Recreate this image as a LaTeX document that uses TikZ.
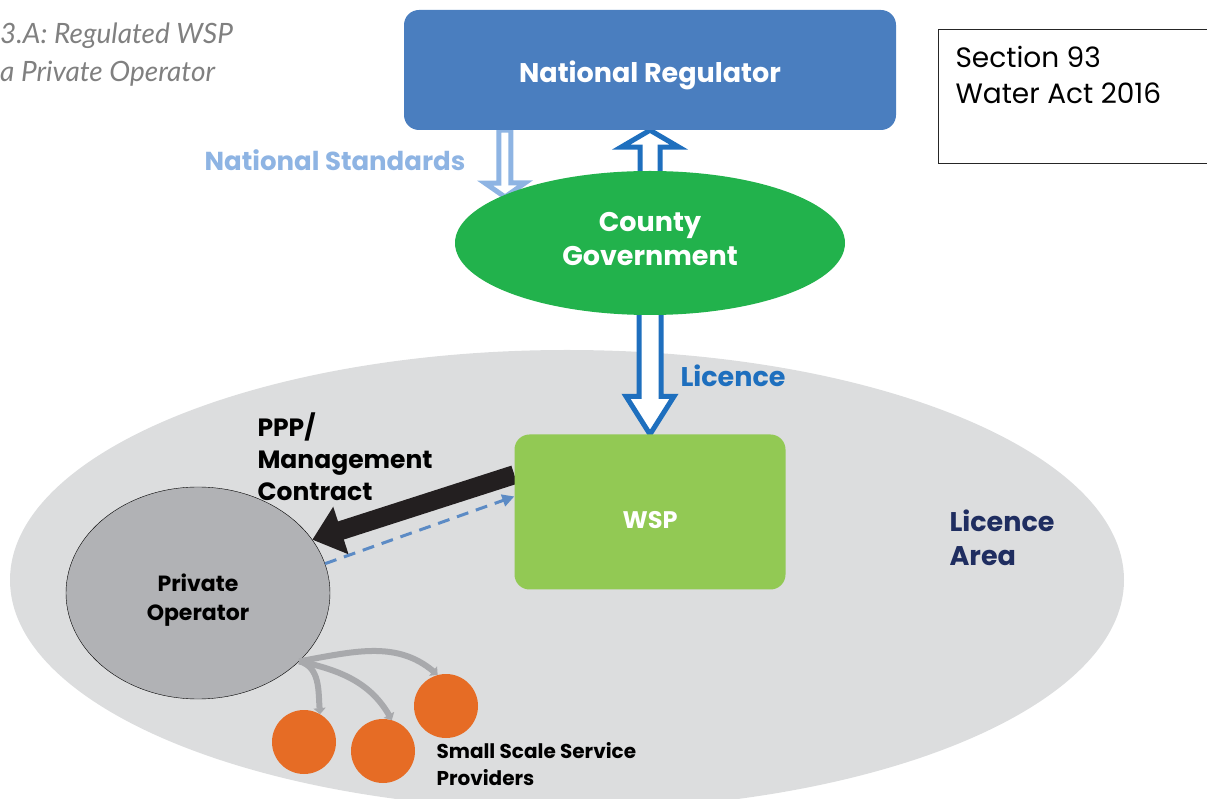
\documentclass[tikz,border=0pt]{standalone}
\usepackage{fontspec}
\setmainfont{Poppins}
\newfontfamily\captionfont{Lato}
\usetikzlibrary{shapes.geometric,arrows.meta,calc}

\definecolor{areagray}{RGB}{220,221,222}
\definecolor{regblue}{RGB}{74,126,191}
\definecolor{countygreen}{RGB}{34,178,76}
\definecolor{wspgreen}{RGB}{146,201,84}
\definecolor{opgray}{RGB}{177,178,181}
\definecolor{sspor}{RGB}{230,108,37}
\definecolor{stdblue}{RGB}{142,180,227}
\definecolor{licblue}{RGB}{30,111,190}
\definecolor{areanavy}{RGB}{31,45,96}
\definecolor{titlegray}{RGB}{128,128,128}
\definecolor{feedgray}{RGB}{168,169,172}
\definecolor{contractblack}{RGB}{35,31,32}

\pgfdeclarelayer{back}
\pgfsetlayers{back,main}

% outlined block arrow: style, from, to, shaft half width, head half width, head length
\newcommand{\hollowarrow}[6]{%
  \coordinate (hb) at ($(#3)!#6!(#2)$);
  \draw[#1, fill=white, line join=miter]
    ($(#2)!#4!90:(#3)$) -- ($(hb)!#4!90:(#3)$) -- ($(hb)!#5!90:(#3)$) -- (#3)
    -- ($(hb)!#5!-90:(#3)$) -- ($(hb)!#4!-90:(#3)$) -- ($(#2)!#4!-90:(#3)$) -- cycle;
}

\tikzset{
  box/.style={rounded corners=15pt, text=white, font=\bfseries\fontsize{27}{30}\selectfont},
  lbl/.style={font=\bfseries\fontsize{27}{34}\selectfont, align=left},
  ssp/.style={circle, fill=sspor, minimum size=64pt, inner sep=0pt},
  feed/.style={feedgray, line width=6pt, -{Triangle[length=6pt,width=12pt]}},
}

\begin{document}
\begin{tikzpicture}[x=1pt, y=1pt]
            \useasboundingbox (0,0) rectangle (1207,798);

            % bodies
            \node[ellipse, minimum width=1114pt, minimum height=460pt] (area) at (567,218) {};
            \node[box, fill=regblue, minimum width=492pt, minimum height=120pt,
                  text height=30pt, text depth=4pt] (reg) at (650,728) {National Regulator};
            \node[ellipse, fill=countygreen, minimum width=390pt, minimum height=144pt] (county) at (650,555) {};
            \node[align=center, text=white, font=\bfseries\fontsize{27}{34}\selectfont] (countylbl)
                  at ([yshift=4pt]county.center) {County\\Government};
            \node[box, fill=wspgreen, font=\bfseries\fontsize{24}{28}\selectfont, minimum width=271pt, minimum height=155pt,
                  text height=33pt, text depth=0pt] (wsp) at (650,286) {WSP};
            \node[ellipse, draw=black, fill=opgray, minimum width=264pt, minimum height=212pt] (po) at (198,205) {};
            \node[align=center, font=\bfseries\fontsize{22}{29}\selectfont] (polbl)
                  at ([yshift=-7pt]po.center) {Private\\Operator};
            \node[ssp] (ssp1) at (304,56) {};
            \node[ssp] (ssp2) at (383,47) {};
            \node[ssp] (ssp3) at (446,92) {};

            % legal reference
            \node[draw=black!85, line width=1pt, minimum width=282pt, minimum height=134pt] (act) at (1079,701) {};
            \node[anchor=west, align=left, font=\fontsize{28}{36}\selectfont] (actlbl) at (952,723) {Section 93\\Water Act 2016};

            % labels
            \node[anchor=west, align=left, inner sep=0pt, text=titlegray,
                  font=\captionfont\itshape\fontsize{28}{38}\selectfont] (title) at (0,743) {3.A: Regulated WSP\\a Private Operator};
            \node[lbl, text=stdblue, font=\bfseries\fontsize{26}{34}\selectfont] (stdlbl) at (335,638) {National Standards};
            \node[lbl, text=licblue] (liclbl) at (733,422) {Licence};
            \node[lbl, text=areanavy, anchor=west] (arealbl) at (946,260) {Licence\\Area};
            \node[lbl, anchor=west, font=\bfseries\fontsize{25}{32}\selectfont] (ppplbl) at (254,341) {PPP/\\Management\\Contract};
            \node[anchor=west, align=left, font=\bfseries\fontsize{20}{27}\selectfont] (ssplbl) at (433,34) {Small Scale Service\\Providers};

            \coordinate (stdtop) at ($(reg.south west)+(101,0)$);
            \coordinate (stdtip) at (505,601);
            \coordinate (cstart) at ($(wsp.north west)!0.26!(wsp.south west)$);
            \coordinate (rend) at ($(wsp.north west)!0.40!(wsp.south west)$);

            \begin{pgfonlayer}{back}
            \fill[areagray] (area.center) ellipse (557pt and 230pt);
            \hollowarrow{stdblue, line width=5pt}{stdtop}{stdtip}{6pt}{20pt}{14pt}
            \hollowarrow{licblue, line width=5pt}{county.center}{reg.south}{10pt}{29pt}{17pt}
            \hollowarrow{licblue, line width=5pt}{county.center}{wsp.north}{11pt}{24pt}{38pt}
            \draw[contractblack, line width=19pt, -{Triangle[length=30pt,width=48pt]}] (cstart) -- (po.25);
            \end{pgfonlayer}

            \draw[regblue!90!white, line width=3pt, dash pattern=on 12pt off 8pt, -{Triangle[length=12pt,width=12pt]}] (po.13) -- (rend);

            \draw[feed] (po.-34) to[out=-15, in=95] (ssp1.60);
            \draw[feed] (po.-34) to[out=-12, in=120] (ssp2.74);
            \draw[feed] (po.-34) to[out=10, in=140] (ssp3.105);
        \end{tikzpicture}
\end{document}
